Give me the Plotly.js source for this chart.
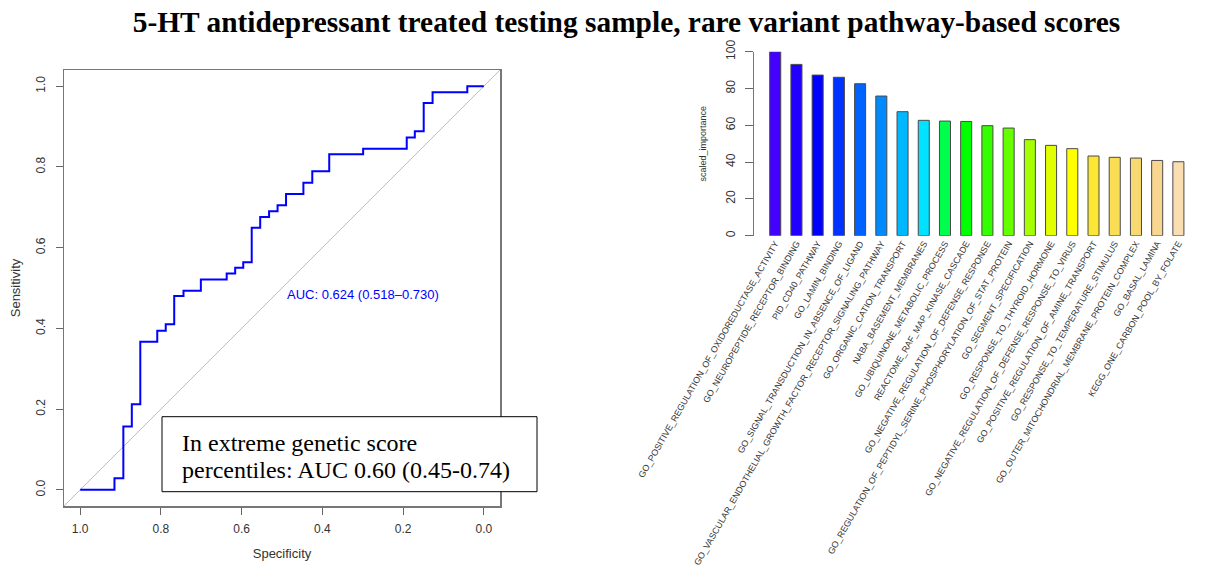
<!DOCTYPE html>
<html>
<head>
<meta charset="utf-8">
<script src="https://cdn.plot.ly/plotly-3.0.1.min.js"></script>
<style>
  html, body { margin: 0; padding: 0; background: #ffffff; }
  #chart { width: 1229px; height: 572px; }
</style>
</head>
<body>
<div id="chart"></div>
<script>
// ---------- ROC curve data (step vertices) ----------
const rocSpecificity = [1.0, 0.915, 0.893, 0.872, 0.851, 0.809, 0.788, 0.767, 0.744, 0.701,
  0.637, 0.616, 0.596, 0.575, 0.554, 0.532, 0.511, 0.490, 0.447, 0.425,
  0.383, 0.299, 0.191, 0.171, 0.149, 0.127, 0.041, 0.0];
const rocSensitivity = [0.0, 0.029, 0.157, 0.212, 0.367, 0.394, 0.410, 0.480, 0.493, 0.521,
  0.536, 0.550, 0.564, 0.649, 0.676, 0.690, 0.705, 0.733, 0.761, 0.789,
  0.831, 0.845, 0.873, 0.888, 0.958, 0.985, 1.0, 1.0];
const aucLabel = "AUC: 0.624 (0.518\u20130.730)";
const insetLines = ["In extreme genetic score", "percentiles: AUC 0.60 (0.45-0.74)"];

// ---------- Bar chart data ----------
const pathways = [
  "GO_POSITIVE_REGULATION_OF_OXIDOREDUCTASE_ACTIVITY",
  "GO_NEUROPEPTIDE_RECEPTOR_BINDING",
  "PID_CD40_PATHWAY",
  "GO_LAMIN_BINDING",
  "GO_SIGNAL_TRANSDUCTION_IN_ABSENCE_OF_LIGAND",
  "GO_VASCULAR_ENDOTHELIAL_GROWTH_FACTOR_RECEPTOR_SIGNALING_PATHWAY",
  "GO_ORGANIC_CATION_TRANSPORT",
  "NABA_BASEMENT_MEMBRANES",
  "GO_UBIQUINONE_METABOLIC_PROCESS",
  "REACTOME_RAF_MAP_KINASE_CASCADE",
  "GO_NEGATIVE_REGULATION_OF_DEFENSE_RESPONSE",
  "GO_REGULATION_OF_PEPTIDYL_SERINE_PHOSPHORYLATION_OF_STAT_PROTEIN",
  "GO_SEGMENT_SPECIFICATION",
  "GO_RESPONSE_TO_THYROID_HORMONE",
  "GO_NEGATIVE_REGULATION_OF_DEFENSE_RESPONSE_TO_VIRUS",
  "GO_POSITIVE_REGULATION_OF_AMINE_TRANSPORT",
  "GO_RESPONSE_TO_TEMPERATURE_STIMULUS",
  "GO_OUTER_MITOCHONDRIAL_MEMBRANE_PROTEIN_COMPLEX",
  "GO_BASAL_LAMINA",
  "KEGG_ONE_CARBON_POOL_BY_FOLATE"
];
const scaledImportance = [100, 93.1, 87.3, 86.1, 82.6, 75.9, 67.4, 62.7, 62.3, 62.1,
  59.8, 58.5, 52.2, 49.1, 47.3, 43.3, 42.6, 42.2, 40.9, 40.2];
const barColors = ["#4400FF", "#2200FF", "#0000FF", "#0033FF", "#0062FF", "#008AFF",
  "#00B8FF", "#00E2FF", "#00FF4C", "#00FF00", "#33FF00", "#66FF00", "#A6FF00",
  "#E2FF00", "#FFFF00", "#FAE633", "#F9DD55", "#F8D870", "#F9D690", "#FADEB2"];

const W = 1229, H = 572;
const px = v => v / W;
const py = v => 1 - v / H;

const traces = [
  {
    type: "scatter", mode: "lines",
    x: rocSpecificity, y: rocSensitivity,
    line: { color: "#0000FF", width: 2, shape: "hv" },
    xaxis: "x", yaxis: "y", hoverinfo: "x+y", showlegend: false
  },
  {
    type: "bar",
    x: pathways, y: scaledImportance,
    marker: { color: barColors, line: { color: "#4a4a4a", width: 1 } },
    xaxis: "x2", yaxis: "y2", showlegend: false
  }
];

const sans = "Liberation Sans, Arial, sans-serif";
const serif = "Liberation Serif, Times New Roman, serif";
const tickFont = { family: sans, size: 12, color: "#333" };

const layout = {
  width: W, height: H,
  margin: { l: 0, r: 0, t: 0, b: 0 },
  paper_bgcolor: "#ffffff", plot_bgcolor: "#ffffff",
  title: {
    text: "5-HT antidepressant treated testing sample, rare variant pathway-based scores",
    font: { family: serif, size: 29.4, color: "#000", weight: "bold" },
    x: px(626.5), xanchor: "center", xref: "paper",
    y: 1 - 22 / H, yanchor: "middle", yref: "container"
  },
  xaxis: {
    domain: [px(64), px(500)],
    range: [1.04, -0.04], autorange: false,
    tickvals: [1.0, 0.8, 0.6, 0.4, 0.2, 0.0], tickformat: ".1f",
    ticks: "outside", ticklen: 7, tickcolor: "#666", tickwidth: 1,
    showline: true, linecolor: "#777", linewidth: 1.5, mirror: true,
    showgrid: false, zeroline: false,
    tickfont: tickFont, ticklabelstandoff: 4,
    title: { text: "Specificity", font: { family: sans, size: 13, color: "#333" }, standoff: 14 },
    anchor: "y", automargin: false
  },
  yaxis: {
    domain: [py(506), py(70)],
    range: [-0.04, 1.04], autorange: false,
    tickvals: [0.0, 0.2, 0.4, 0.6, 0.8, 1.0], tickformat: ".1f",
    ticks: "outside", ticklen: 7, tickcolor: "#666", tickwidth: 1,
    tickangle: -90,
    showline: true, linecolor: "#777", linewidth: 1.5, mirror: true,
    showgrid: false, zeroline: false,
    tickfont: tickFont, ticklabelstandoff: 6,
    title: { text: "Sensitivity", font: { family: sans, size: 13, color: "#333" }, standoff: 10 },
    anchor: "x", automargin: false
  },
  xaxis2: {
    domain: [px(754), px(1189)],
    range: [-1.0, 19.5], autorange: false,
    type: "category",
    tickangle: -60, ticks: "",
    showline: false, showgrid: false, zeroline: false,
    tickfont: { family: sans, size: 8.9, color: "#333" },
    anchor: "y2", automargin: false
  },
  yaxis2: {
    domain: [py(235.7), py(51.7)],
    range: [0, 100], autorange: false,
    tickvals: [0, 20, 40, 60, 80, 100],
    ticks: "outside", ticklen: 8, tickcolor: "#666", tickwidth: 1,
    tickangle: -90,
    showline: true, linecolor: "#777", linewidth: 1,
    showgrid: false, zeroline: false,
    tickfont: tickFont, ticklabelstandoff: 5,
    title: { text: "scaled_importance", font: { family: sans, size: 9, color: "#333" }, standoff: 16 },
    anchor: "x2", automargin: false
  },
  bargap: 0.48,
  shapes: [
    { type: "line", xref: "x", yref: "y", x0: 1.04, y0: -0.04, x1: -0.04, y1: 1.04,
      line: { color: "#BDBDBD", width: 1 }, layer: "below" },
    { type: "rect", xref: "paper", yref: "paper",
      x0: px(162), x1: px(537), y0: py(491.7), y1: py(416.7),
      fillcolor: "#ffffff", line: { color: "#000", width: 1 }, layer: "above" }
  ],
  annotations: [
    { xref: "x", yref: "y", x: 0.30, y: 0.485, text: aucLabel, showarrow: false,
      font: { family: sans, size: 13, color: "#0000FF" },
      xanchor: "center", yanchor: "middle" },
    { xref: "paper", yref: "paper", x: px(180), y: py(443), text: insetLines[0], showarrow: false,
      align: "left", xanchor: "left", yanchor: "middle",
      font: { family: serif, size: 24, color: "#000" } },
    { xref: "paper", yref: "paper", x: px(180), y: py(470), text: insetLines[1], showarrow: false,
      align: "left", xanchor: "left", yanchor: "middle",
      font: { family: serif, size: 24, color: "#000" } }
  ]
};

Plotly.newPlot("chart", traces, layout, { staticPlot: true, displayModeBar: false });
</script>
</body>
</html>
